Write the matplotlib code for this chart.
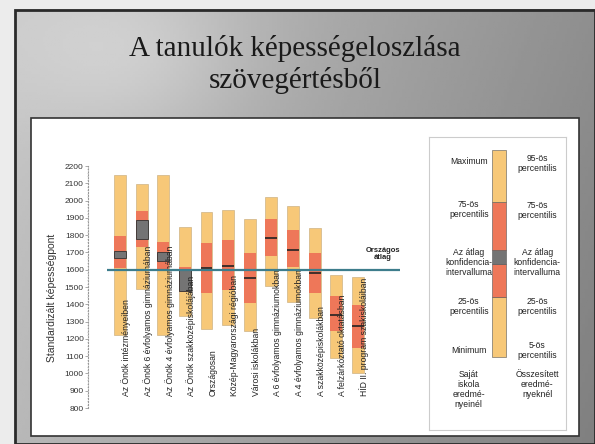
import numpy as np
import matplotlib.pyplot as plt
from matplotlib.patches import Rectangle

plt.rcParams["font.family"] = ["Liberation Sans", "DejaVu Sans"]

W, H = 595, 444  # kép mérete pixelben

# --- adatok ---
categories = [
    "Az Önök intézményeiben",
    "Az Önök 6 évfolyamos gimnáziumában",
    "Az Önök 4 évfolyamos gimnáziumában",
    "Az Önök szakközépiskolájában",
    "Országosan",
    "Közép-Magyarországi régióban",
    "Városi iskolákban",
    "A 6 évfolyamos gimnáziumokban",
    "A 4 évfolyamos gimnáziumokban",
    "A szakközépiskolákban",
    "A felzárkóztató oktatásban",
    "HÍD II. program szakiskoláiban",
]
# saját iskola (min, 25%, konf. int., 75%, max)
own_min = [1220, 1490, 1220, 1330]
own_p25 = [1610, 1730, 1600, 1470]
own_ci_lo = [1668, 1775, 1648, 1475]
own_ci_hi = [1710, 1885, 1700, 1605]
own_p75 = [1795, 1940, 1760, 1615]
own_max = [2150, 2095, 2150, 1845]
# összesített eredmények (5%, 25%, átlag, 75%, 95%)
all_p5 = [1255, 1280, 1245, 1505, 1412, 1320, 1090, 1000]
all_p25 = [1465, 1482, 1407, 1682, 1615, 1465, 1245, 1150]
all_mean = [1612, 1621, 1550, 1783, 1714, 1581, 1340, 1275]
all_p75 = [1755, 1772, 1696, 1896, 1830, 1696, 1448, 1396]
all_p95 = [1935, 1945, 1893, 2022, 1966, 1841, 1568, 1556]
national_avg = 1600
yticks = list(range(800, 2201, 100))

YELLOW = "#F7C878"
RED = "#EE7759"
GREY = "#747474"
TEAL = "#3D7D8C"


def fig_rect(x0, y0, x1, y1):
    # pixel -> figura arány
    return [x0 / W, 1 - y1 / H, (x1 - x0) / W, (y1 - y0) / H]


fig = plt.figure(figsize=(W / 100, H / 100), dpi=100)
fig.patch.set_facecolor("#ececec")

# dia háttér
bg = fig.add_axes([0, 0, 1, 1], zorder=-10)
bg.set_xlim(0, W)
bg.set_ylim(H, 0)
bg.axis("off")
xx, yy = np.meshgrid(np.linspace(0, 1, 200), np.linspace(0, 1, 150))
shade = 0.78 - 0.22 * xx - 0.06 * yy + 0.08 * np.exp(-((xx - 0.2) ** 2 + (yy - 0.1) ** 2) / 0.04)
bg.imshow(shade, cmap="gray", vmin=0, vmax=1, extent=(15, W, H, 10), aspect="auto")
bg.add_patch(Rectangle((15, 10), W - 15, H - 10, fill=False, ec="#2a2a2a", lw=2))
bg.add_patch(Rectangle((31, 118), 548, 318, fc="white", ec="#333333", lw=1.2))
bg.text(295, 49, "A tanulók képességeloszlása", ha="center", va="center",
        fontsize=21, family=["Liberation Serif"], color="#1a1a1a")
bg.text(295, 80, "szövegértésből", ha="center", va="center",
        fontsize=21, family=["Liberation Serif"], color="#1a1a1a")

# fő diagram
ax = fig.add_axes(fig_rect(88, 166, 430, 408))
ax.set_xlim(-1.48, 14.33)
ax.set_ylim(800, 2200)
w = 0.55
x_own = np.arange(len(own_min))
x_all = np.arange(len(own_min), len(categories))
lo = np.array(own_min)
ax.bar(x_own, np.array(own_max) - lo, bottom=lo, width=w, color=YELLOW, ec="#c4a676", lw=0.4)
ax.bar(x_own, np.array(own_p75) - np.array(own_p25), bottom=own_p25, width=w, color=RED, lw=0)
ax.bar(x_own, np.array(own_ci_hi) - np.array(own_ci_lo), bottom=own_ci_lo, width=w,
       color=GREY, ec="#333333", lw=0.6)
ax.bar(x_all, np.array(all_p95) - np.array(all_p5), bottom=all_p5, width=w, color=YELLOW, ec="#c4a676", lw=0.4)
ax.bar(x_all, np.array(all_p75) - np.array(all_p25), bottom=all_p25, width=w, color=RED, lw=0)
ax.hlines(all_mean, x_all - w / 2, x_all + w / 2, color="#222222", lw=1.2)

ax.hlines(national_avg, -0.6, 12.95, color=TEAL, lw=1.6, zorder=5)
ax.text(12.15, national_avg + 90, "Országos\nátlag", ha="center", va="center",
        fontsize=5.5, fontweight="bold", color="#222222", linespacing=1.0)

for i, cat in enumerate(categories):
    ax.text(i + 0.3, 870, cat, rotation=90, ha="center", va="bottom",
            fontsize=6.2, color="#222222")

for s in ["top", "right", "bottom"]:
    ax.spines[s].set_visible(False)
ax.spines["left"].set_linestyle(":")
ax.spines["left"].set_color("#999999")
ax.set_xticks([])
ax.set_yticks(yticks)
ax.set_yticks(range(800, 2201, 20), minor=True)
ax.tick_params(axis="y", which="major", length=2, width=0.5, color="#888888",
               labelsize=6, labelcolor="#333333", pad=1)
ax.tick_params(axis="y", which="minor", length=1, width=0.4, color="#aaaaaa")
ax.patch.set_alpha(0)
fig.text(52 / W, 1 - 298 / H, "Standardizált képességpont", rotation=90,
         ha="center", va="center", fontsize=7.5, color="#333333")

# jelmagyarázat
lg = fig.add_axes(fig_rect(429, 137, 566, 430))
lg.set_xlim(0, 1)
lg.set_ylim(0, 1)
lg.set_xticks([])
lg.set_yticks([])
for s in lg.spines.values():
    s.set_color("#cccccc")
    s.set_linewidth(0.8)
levels = [0.249, 0.454, 0.567, 0.614, 0.778, 0.956]
colors = [YELLOW, RED, GREY, RED, YELLOW]
for k in range(5):
    lg.add_patch(Rectangle((0.46, levels[k]), 0.10, levels[k + 1] - levels[k],
                           fc=colors[k], ec="#555555", lw=0.4))
left_txt = ["Maximum", "75-ös\npercentilis", "Az átlag\nkonfidencia-\nintervalluma",
            "25-ös\npercentilis", "Minimum", "Saját\niskola\neredmé-\nnyeinél"]
right_txt = ["95-ös\npercentilis", "75-ös\npercentilis", "Az átlag\nkonfidencia-\nintervalluma",
             "25-ös\npercentilis", "5-ös\npercentilis", "Összesített\neredmé-\nnyeknél"]
left_y = [0.915, 0.754, 0.573, 0.42, 0.27, 0.137]
right_y = [0.91, 0.75, 0.573, 0.42, 0.27, 0.154]
for t, y in zip(left_txt, left_y):
    lg.text(0.29, y, t, ha="center", va="center", fontsize=6.2, color="#222222", linespacing=1.15)
for t, y in zip(right_txt, right_y):
    lg.text(0.79, y, t, ha="center", va="center", fontsize=6.2, color="#222222", linespacing=1.15)

fig.savefig("out.png", dpi=100)
